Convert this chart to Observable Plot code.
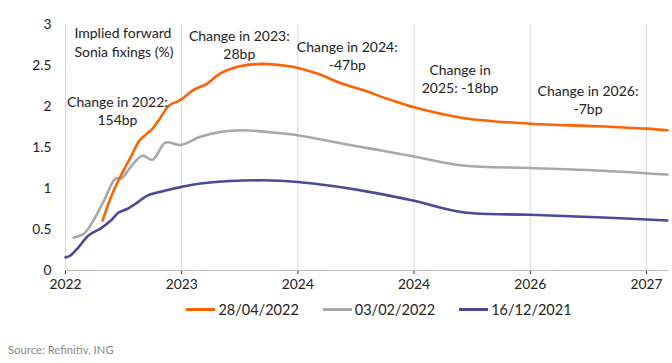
<!DOCTYPE html>
<html>
<head>
<meta charset="utf-8">
<script src="https://cdn.jsdelivr.net/npm/d3@7"></script>
<script src="https://cdn.jsdelivr.net/npm/@observablehq/plot@0.6"></script>
<style>
  body { margin: 0; background: #fff; font-family: Lato, "Open Sans", sans-serif; }
  #wrap { width: 672px; height: 363px; position: relative; }
  #legend { display: flex; justify-content: center; align-items: center; gap: 24px; font-size: 14.5px; color: #222; margin-top: 1px; padding-left: 86px; }
  .item { display: flex; align-items: center; gap: 3px; }
  .sw { width: 29px; height: 3px; display: inline-block; }
  #source { position: absolute; left: 8px; top: 343px; font-size: 11.3px; color: #8a8a8a; }
</style>
</head>
<body>
<div id="wrap">
  <div id="chart"></div>
  <div id="legend"></div>
  <div id="source">Source: Refinitiv, ING</div>
</div>
<script>
// Series: [year (fractional), implied forward Sonia %]
const series28Apr2022 = [
  [2022.32,0.61],[2022.39,0.89],[2022.47,1.14],[2022.56,1.38],[2022.64,1.59],[2022.75,1.73],
  [2022.82,1.87],[2022.89,2.01],[2022.99,2.08],[2023.10,2.20],[2023.22,2.28],[2023.33,2.40],
  [2023.50,2.49],[2023.70,2.52],[2023.88,2.50],[2024.00,2.47],[2024.19,2.39],[2024.36,2.29],
  [2024.56,2.20],[2024.78,2.09],[2025.00,1.99],[2025.42,1.86],[2026.00,1.79],[2026.57,1.76],
  [2027.00,1.73],[2027.18,1.71]
];
const series03Feb2022 = [
  [2022.07,0.40],[2022.16,0.45],[2022.24,0.61],[2022.33,0.85],[2022.43,1.12],[2022.48,1.12],
  [2022.56,1.26],[2022.66,1.40],[2022.75,1.35],[2022.86,1.56],[2022.99,1.53],[2023.16,1.63],
  [2023.33,1.69],[2023.53,1.71],[2023.73,1.69],[2024.00,1.65],[2024.30,1.57],[2024.65,1.48],
  [2025.00,1.39],[2025.42,1.28],[2026.00,1.25],[2026.57,1.22],[2027.18,1.17]
];
const series16Dec2021 = [
  [2022.00,0.16],[2022.04,0.18],[2022.11,0.28],[2022.20,0.43],[2022.30,0.51],[2022.39,0.61],
  [2022.46,0.71],[2022.53,0.75],[2022.62,0.83],[2022.70,0.91],[2022.79,0.95],[2022.87,0.98],
  [2023.00,1.02],[2023.22,1.07],[2023.70,1.10],[2024.00,1.08],[2024.30,1.03],[2024.65,0.95],
  [2025.00,0.85],[2025.42,0.71],[2026.00,0.68],[2026.57,0.65],[2027.18,0.61]
];
const seriesNames = ["28/04/2022", "03/02/2022", "16/12/2021"];
const seriesColors = ["#FF6200", "#A8A8A8", "#4B4A98"];

const xTicks = [2022, 2023, 2024, 2025, 2026, 2027];
const xTickLabels = ["2022", "2023", "2024", "2024", "2026", "2027"];
const yTicks = [0, 0.5, 1, 1.5, 2, 2.5, 3];

const annotations = [
  {x: 2022.077, y: 2.79, text: "Implied forward\nSonia fixings (%)", anchor: "start"},
  {x: 2022.447, y: 1.96, text: "Change in 2022:\n154bp", anchor: "middle"},
  {x: 2023.496, y: 2.76, text: "Change in 2023:\n28bp", anchor: "middle"},
  {x: 2024.425, y: 2.63, text: "Change in 2024:\n-47bp", anchor: "middle"},
  {x: 2025.396, y: 2.35, text: "Change in\n2025: -18bp", anchor: "middle"},
  {x: 2026.497, y: 2.09, text: "Change in 2026:\n-7bp", anchor: "middle"}
];

const allSeries = [series28Apr2022, series03Feb2022, series16Dec2021];
const rows = [];
allSeries.forEach((s, i) => s.forEach(([x, y]) => rows.push({x, y, name: seriesNames[i]})));

const chart = Plot.plot({
  width: 672,
  height: 300,
  marginTop: 24,
  marginBottom: 30,
  marginLeft: 65,
  marginRight: 4,
  style: {fontFamily: "Lato, 'Open Sans', sans-serif", fontSize: "13.8px", color: "#222", background: "#fff"},
  x: {domain: [2022, 2027.19], ticks: xTicks, tickFormat: (d) => xTickLabels[xTicks.indexOf(d)], tickSize: 4, label: null},
  y: {domain: [0, 3], ticks: yTicks, tickFormat: (d) => String(d), tickSize: 0, tickPadding: 14, label: null},
  color: {domain: seriesNames, range: seriesColors},
  marks: [
    Plot.ruleX(xTicks, {stroke: "#d9d9d9", strokeWidth: 1}),
    Plot.ruleY([0], {stroke: "#bdbdbd", strokeWidth: 1.2}),
    Plot.line(rows.slice().reverse(), {x: "x", y: "y", z: "name", stroke: "name", strokeWidth: 2.6, curve: "catmull-rom"}),
    Plot.text(annotations.filter(d => d.anchor === "start"), {x: "x", y: "y", text: "text", textAnchor: "start", lineHeight: 1.3, fill: "#222", fontSize: 14}),
    Plot.text(annotations.filter(d => d.anchor === "middle"), {x: "x", y: "y", text: "text", textAnchor: "middle", lineHeight: 1.3, fill: "#222", fontSize: 14})
  ]
});
document.getElementById("chart").appendChild(chart);

const legend = document.getElementById("legend");
seriesNames.forEach((n, i) => {
  const it = document.createElement("div");
  it.className = "item";
  it.innerHTML = `<span class="sw" style="background:${seriesColors[i]}"></span><span>${n}</span>`;
  legend.appendChild(it);
});
</script>
</body>
</html>
